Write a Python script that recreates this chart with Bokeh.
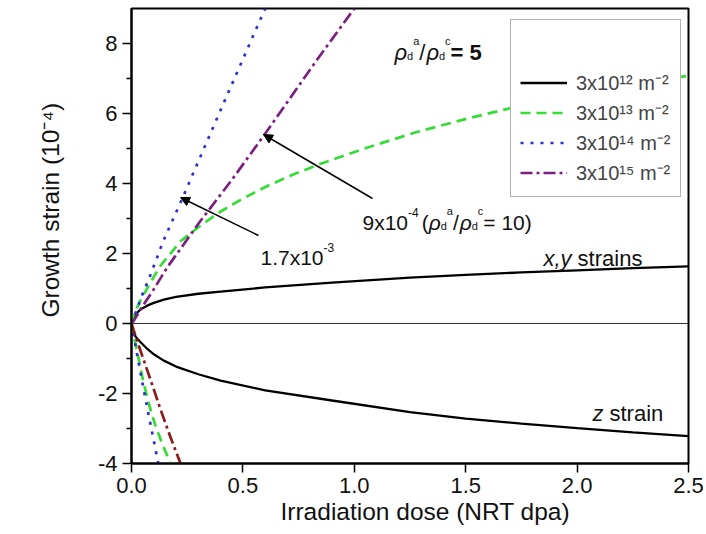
from bokeh.plotting import figure
from bokeh.models import (Range1d, FixedTicker, Label, Arrow, NormalHead, Span,
                          Legend, LegendItem, Title)
from bokeh.embed import file_html
from bokeh.resources import INLINE

# ---------------- data ----------------
x_ticks = [0.0, 0.5, 1.0, 1.5, 2.0, 2.5]
x_tick_labels = ["0.0", "0.5", "1.0", "1.5", "2.0", "2.5"]
y_ticks = [-4, -2, 0, 2, 4, 6, 8]
y_minor_ticks = [-3, -1, 1, 3, 5, 7]
y_tick_labels = ["-4", "-2", "0", "2", "4", "6", "8"]

series_names = ["3x10\u00b9\u00b2 m\u207b\u00b2", "3x10\u00b9\u00b3 m\u207b\u00b2",
                "3x10\u00b9\u2074 m\u207b\u00b2", "3x10\u00b9\u2075 m\u207b\u00b2"]

# rho_d^a = 3e12 (black): x,y strain (upper) and z strain (lower)
dose_12 = [0, 0.005, 0.01, 0.02, 0.04, 0.07, 0.1, 0.145, 0.2, 0.3, 0.4, 0.6,
           0.9, 1.25, 1.5, 1.75, 2.0, 2.25, 2.5]
xy_12 = [0, 0.12, 0.18, 0.27, 0.4, 0.51, 0.59, 0.68, 0.76, 0.85, 0.91, 1.03,
         1.17, 1.31, 1.39, 1.46, 1.52, 1.58, 1.63]
z_12 = [0, -0.18, -0.27, -0.39, -0.53, -0.72, -0.88, -1.06, -1.23, -1.45, -1.63, -1.91,
        -2.2, -2.53, -2.72, -2.86, -2.99, -3.11, -3.22]

# rho_d^a = 3e13 (green)
dose_13_up = [0, 0.01, 0.04, 0.088, 0.13, 0.22, 0.31, 0.4, 0.5, 0.61, 0.72, 0.83,
              1.06, 1.28, 1.51, 1.7, 2.0, 2.25, 2.5]
xy_13 = [0, 0.25, 0.66, 1.2, 1.65, 2.35, 2.8, 3.2, 3.57, 3.93, 4.24, 4.52,
         5.03, 5.47, 5.86, 6.15, 6.55, 6.85, 7.08]
dose_13_dn = [0, 0.005, 0.018, 0.052, 0.078, 0.105, 0.138, 0.175]
z_13 = [0, -0.25, -0.58, -1.63, -2.3, -2.87, -3.44, -4.0]

# rho_d^a = 3e14 (blue)
dose_14_up = [0, 0.005, 0.021, 0.05, 0.082, 0.12, 0.14, 0.23, 0.4, 0.6]
xy_14 = [0, 0.1, 0.34, 0.85, 1.34, 1.97, 2.32, 3.6, 6.1, 9.0]
dose_14_dn = [0, 0.003, 0.01, 0.028, 0.055, 0.078, 0.1, 0.12]
z_14 = [0, -0.12, -0.34, -0.98, -1.9, -2.65, -3.35, -4.0]

# rho_d^a = 3e15 (purple upper, dark red lower)
dose_15_up = [0, 0.01, 0.05, 0.1, 0.16, 0.3, 0.45, 0.594, 0.83, 1.0]
xy_15 = [0, 0.08, 0.5, 0.98, 1.6, 2.85, 4.1, 5.37, 7.51, 9.0]
dose_15_dn = [0, 0.01, 0.04, 0.093, 0.13, 0.175, 0.22]
z_15 = [0, -0.2, -0.77, -1.75, -2.45, -3.25, -4.0]

# ---------------- figure ----------------
FONT = "Liberation Sans"
X0, X1, Y0, Y1 = 0.0, 2.5, -4.0, 9.0
FL, FR, FT, FB = 131, 688, 8, 463   # frame edges in pixels

p = figure(width=706, height=534, output_backend="svg", toolbar_location=None,
           title=None, x_range=Range1d(X0, X1), y_range=Range1d(Y0, Y1),
           min_border_left=FL, min_border_right=706 - FR,
           min_border_top=FT, min_border_bottom=534 - FB)
p.background_fill_color = "white"
p.border_fill_color = "white"
p.xgrid.visible = False
p.ygrid.visible = False
p.outline_line_color = "black"
p.outline_line_width = 2

for ax in (p.xaxis[0], p.yaxis[0]):
    ax.axis_line_width = 2
    ax.axis_line_color = "black"
    ax.major_tick_line_width = 1.5
    ax.minor_tick_line_width = 1.5
    ax.major_tick_in = 0
    ax.major_tick_out = 9
    ax.minor_tick_in = 0
    ax.minor_tick_out = 5
    ax.major_label_text_font = FONT
    ax.major_label_text_font_size = "22px"
    ax.major_label_text_color = "#111111"

p.xaxis.ticker = FixedTicker(ticks=x_ticks)
p.xaxis.major_label_overrides = {t: l for t, l in zip(x_ticks, x_tick_labels)}
p.xaxis.minor_tick_line_color = None
p.xaxis.major_label_standoff = 5
p.yaxis.ticker = FixedTicker(ticks=y_ticks, minor_ticks=y_minor_ticks)
p.yaxis.major_label_overrides = {t: l for t, l in zip(y_ticks, y_tick_labels)}
p.yaxis.major_label_standoff = 5

# axis titles (as side titles so they can be placed like the reference)
p.add_layout(Title(text="Irradiation dose (NRT dpa)", align="left", offset=149,
                   standoff=0, text_font=FONT, text_font_size="24.5px",
                   text_font_style="normal", text_color="#111111"), "below")
p.add_layout(Title(text="Growth strain (10\u207b\u2074)", align="left", offset=146,
                   standoff=62, text_font=FONT, text_font_size="24.5px",
                   text_font_style="normal", text_color="#111111"), "left")

p.add_layout(Span(location=0, dimension="width", line_color="#333333", line_width=1.2))

GREEN, BLUE, PURPLE, DARKRED = "#36dc36", "#2e2ed2", "#7c1f80", "#8b1c1c"
r12a = p.line(dose_12, xy_12, line_color="black", line_width=2.3)
r12b = p.line(dose_12, z_12, line_color="black", line_width=2.3)
r13a = p.line(dose_13_up, xy_13, line_color=GREEN, line_width=2.7, line_dash="10 6")
r13b = p.line(dose_13_dn, z_13, line_color=GREEN, line_width=2.7, line_dash="10 6")
r14a = p.line(dose_14_up, xy_14, line_color=BLUE, line_width=2.7, line_dash="3 7")
r14b = p.line(dose_14_dn, z_14, line_color=BLUE, line_width=2.7, line_dash="3 7")
r15a = p.line(dose_15_up, xy_15, line_color=PURPLE, line_width=2.7, line_dash="12 4 3 4")
r15b = p.line(dose_15_dn, z_15, line_color=DARKRED, line_width=2.7, line_dash="12 4 3 4")

legend = Legend(items=[LegendItem(label=series_names[0], renderers=[r12a]),
                       LegendItem(label=series_names[1], renderers=[r13a]),
                       LegendItem(label=series_names[2], renderers=[r14a]),
                       LegendItem(label=series_names[3], renderers=[r15a])],
                location=(510 - FL, FB - 197))
legend.title = "\u00a0"
legend.title_text_font_size = "22px"
legend.title_standoff = 13
legend.label_text_font = FONT
legend.label_text_font_size = "20px"
legend.label_height = 29
legend.glyph_height = 29
legend.glyph_width = 47
legend.label_standoff = 9
legend.spacing = 1
legend.padding = 9
legend.margin = 0
legend.border_line_color = "#666666"
legend.border_line_width = 1.5
legend.background_fill_alpha = 1.0
p.add_layout(legend)

# ---------------- annotations ----------------
def dxp(px):
    return X0 + (px - FL) * (X1 - X0) / (FR - FL)

def dyp(py):
    return Y1 - (py - FT) * (Y1 - Y0) / (FB - FT)

CW = {'.': .278, 'x': .5, 'y': .5, ',': .278, ' ': .278, 's': .5, 't': .278, 'r': .333,
      'a': .556, 'i': .222, 'n': .556, 'z': .5, 'd': .556, 'c': .5, '/': .278, '(': .333,
      ')': .333, '=': .584, 'm': .833, '-': .333, '\u03c1': .57}

def tw(s, size):
    return sum(CW.get(ch, .556) for ch in s) * size

def rich(px, py, segs):
    x = px
    for seg in segs:
        if isinstance(seg, (int, float)):
            x += seg
            continue
        txt, size, style, rise = seg
        p.add_layout(Label(x=dxp(x), y=dyp(py - rise), text=txt, text_font=FONT,
                           text_font_size=f"{size}px", text_font_style=style,
                           text_color="#111111", text_baseline="alphabetic",
                           text_align="left"))
        x += tw(txt, size)

RHO = "\u03c1"
# rho_d^a / rho_d^c = 5
rich(394, 52, [(RHO, 22, "italic", 0), ("d", 11, "normal", -3), ("a", 11, "normal", 12),
               ("/", 22, "normal", 0), 1, (RHO, 22, "italic", 0), ("d", 11, "normal", -3),
               ("c", 11, "normal", 12), ("= 5", 22, "bold", 0)])
# legend title rho_d^a
rich(570, 57, [(RHO, 22, "italic", 0), ("d", 11, "normal", -4), ("a", 11, "normal", 17)])
# 9x10^-4 (rho_d^a / rho_d^c = 10)
rich(362, 222, [("9x10", 21, "normal", 0), ("-4", 12, "normal", 10), 3,
                ("(", 21, "normal", 0), (RHO, 21, "italic", 0), ("d", 11, "normal", -3),
                ("a", 11, "normal", 12), ("/", 21, "normal", 0), 1, (RHO, 21, "italic", 0),
                ("d", 11, "normal", -3), ("c", 11, "normal", 12), ("= 10)", 21, "normal", 0)])
# 1.7x10^-3
rich(260, 257, [("1.7x10", 21, "normal", 0), ("-3", 12, "normal", 10)])
# x,y strains / z strain
rich(543, 258, [("x,y", 22, "italic", 0), 6, ("strains", 22, "normal", 0)])
rich(592, 413, [("z", 22, "italic", 0), 6, ("strain", 22, "normal", 0)])

# arrows
p.add_layout(Arrow(end=NormalHead(size=9, fill_color="black", line_color="black"),
                   x_start=dxp(372), y_start=dyp(198), x_end=dxp(263), y_end=dyp(134),
                   line_width=1.5, line_color="black"))
p.add_layout(Arrow(end=NormalHead(size=9, fill_color="black", line_color="black"),
                   x_start=dxp(258), y_start=dyp(235), x_end=dxp(180), y_end=dyp(197),
                   line_width=1.5, line_color="black"))

open("out.html", "w").write(file_html(p, INLINE))
